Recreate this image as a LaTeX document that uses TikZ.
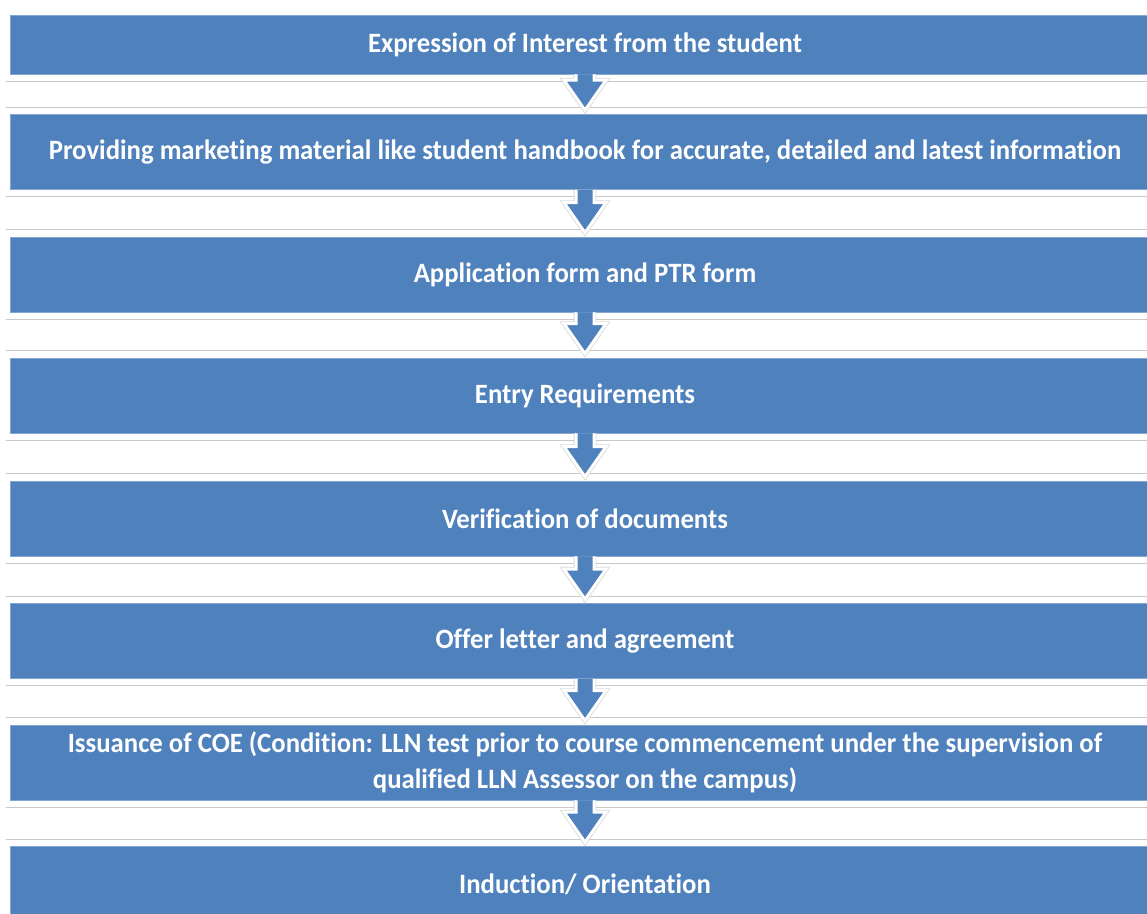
\documentclass[tikz,border=0pt]{standalone}
\usepackage{fontspec}
\newfontfamily\boxfont[FakeStretch=0.955,Ligatures=CommonOff]{Carlito}
\usetikzlibrary{calc}
\definecolor{boxblue}{RGB}{79,129,189}
\definecolor{lineg}{RGB}{200,200,200}

\begin{document}
\begin{tikzpicture}[x=1pt,y=1pt]
  \tikzset{
    stepbox/.style={
      rectangle,
      fill=boxblue,
      draw=boxblue!70!white,
      line width=0.6pt,
      minimum width=1150pt,
      minimum height=75pt,
      inner sep=0pt,
      text=white,
      align=center,
      font=\boxfont\bfseries\fontsize{28}{36}\selectfont
    },
    frameline/.style={draw=lineg, line width=1pt},
    blockarrow/.style={
      fill=boxblue,
      draw=white,
      line width=3pt,
      line join=miter,
      preaction={draw=lineg!70, line width=4.6pt},
      to path={
        let \p1=(\tikztostart), \p2=(\tikztotarget) in
        (\x1-9pt,\y1) -- (\x1-9pt,\y2+34pt) -- (\x1-21pt,\y2+34pt)
        -- (\x1,\y2+4pt) -- (\x1+21pt,\y2+34pt) -- (\x1+9pt,\y2+34pt)
        -- (\x1+9pt,\y1)
      }
    }
  }
  \useasboundingbox[fill=white] (0,0) rectangle (1147,-913);

  \node[stepbox, minimum height=59pt] (interest) at (585,-44.5)
    {Expression of Interest from the student};
  \node[stepbox] (material) at (585,-152)
    {Providing marketing material like student handbook for accurate, detailed and latest information};
  \node[stepbox] (appform) at (585,-274.5) {Application form and PTR form};
  \node[stepbox] (entry) at (585,-395.5) {Entry Requirements};
  \node[stepbox] (verify) at (585,-518.5) {Verification of documents};
  \node[stepbox] (offer) at (585,-641) {Offer letter and agreement};
  \node[stepbox] (coe) at (585,-762.5)
    {Issuance of COE (Condition: LLN test prior to course commencement under the supervision of\\
     qualified LLN Assessor on the campus)};
  \node[stepbox] (induction) at (585,-884) {Induction/ Orientation};

  % frame lines round the boxes
  \draw[frameline] ([shift={(-4pt,-7pt)}]interest.south west) -- ([yshift=-7pt]interest.south east);
  \draw[frameline] ([shift={(-4pt,7pt)}]material.north west) -- ([yshift=7pt]material.north east);
  \draw[frameline] ([shift={(-4pt,-7pt)}]material.south west) -- ([yshift=-7pt]material.south east);
  \draw[frameline] ([shift={(-4pt,7pt)}]appform.north west) -- ([yshift=7pt]appform.north east);
  \draw[frameline] ([shift={(-4pt,-7pt)}]appform.south west) -- ([yshift=-7pt]appform.south east);
  \draw[frameline] ([shift={(-4pt,7pt)}]entry.north west) -- ([yshift=7pt]entry.north east);
  \draw[frameline] ([shift={(-4pt,-7pt)}]entry.south west) -- ([yshift=-7pt]entry.south east);
  \draw[frameline] ([shift={(-4pt,7pt)}]verify.north west) -- ([yshift=7pt]verify.north east);
  \draw[frameline] ([shift={(-4pt,-7pt)}]verify.south west) -- ([yshift=-7pt]verify.south east);
  \draw[frameline] ([shift={(-4pt,7pt)}]offer.north west) -- ([yshift=7pt]offer.north east);
  \draw[frameline] ([shift={(-4pt,-7pt)}]offer.south west) -- ([yshift=-7pt]offer.south east);
  \draw[frameline] ([shift={(-4pt,7pt)}]coe.north west) -- ([yshift=7pt]coe.north east);
  \draw[frameline] ([shift={(-4pt,-7pt)}]coe.south west) -- ([yshift=-7pt]coe.south east);
  \draw[frameline] ([shift={(-4pt,7pt)}]induction.north west) -- ([yshift=7pt]induction.north east);

  % arrows between the steps
  \draw[blockarrow] (interest.south) to (material.north);
  \draw[blockarrow] (material.south) to (appform.north);
  \draw[blockarrow] (appform.south) to (entry.north);
  \draw[blockarrow] (entry.south) to (verify.north);
  \draw[blockarrow] (verify.south) to (offer.north);
  \draw[blockarrow] (offer.south) to (coe.north);
  \draw[blockarrow] (coe.south) to (induction.north);
\end{tikzpicture}
\end{document}
